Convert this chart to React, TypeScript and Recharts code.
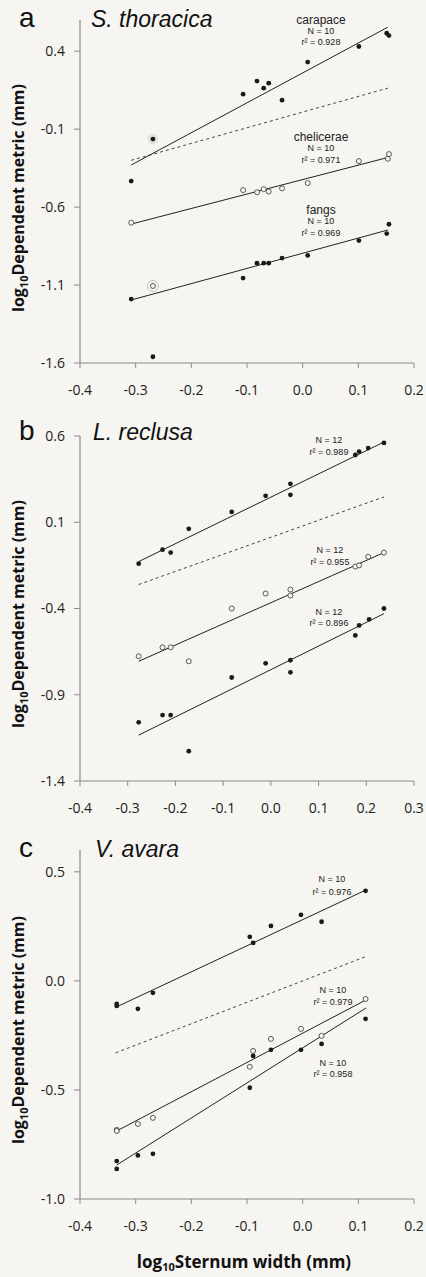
import React from 'react';
import { ScatterChart, Scatter, XAxis, YAxis } from 'recharts';

type P = { x: number; y: number };

// ---------- Panel a: S. thoracica ----------
const aCarapace: P[] = [
  { x: -0.308, y: -0.433 }, { x: -0.269, y: -0.164 }, { x: -0.107, y: 0.124 },
  { x: -0.082, y: 0.208 }, { x: -0.070, y: 0.163 }, { x: -0.061, y: 0.195 },
  { x: -0.037, y: 0.086 }, { x: 0.009, y: 0.33 }, { x: 0.101, y: 0.43 },
  { x: 0.151, y: 0.515 }, { x: 0.155, y: 0.50 },
];
const aChelicerae: P[] = [
  { x: -0.308, y: -0.70 }, { x: -0.269, y: -1.106 }, { x: -0.107, y: -0.491 },
  { x: -0.082, y: -0.505 }, { x: -0.070, y: -0.485 }, { x: -0.061, y: -0.50 },
  { x: -0.037, y: -0.48 }, { x: 0.009, y: -0.446 }, { x: 0.101, y: -0.305 },
  { x: 0.153, y: -0.29 }, { x: 0.155, y: -0.26 },
];
const aFangs: P[] = [
  { x: -0.308, y: -1.19 }, { x: -0.269, y: -1.56 }, { x: -0.107, y: -1.055 },
  { x: -0.082, y: -0.96 }, { x: -0.070, y: -0.96 }, { x: -0.061, y: -0.96 },
  { x: -0.037, y: -0.927 }, { x: 0.009, y: -0.91 }, { x: 0.101, y: -0.815 },
  { x: 0.151, y: -0.77 }, { x: 0.155, y: -0.71 },
];
const aGlow: P[] = [{ x: -0.269, y: -0.164 }];
const aRing: P[] = [{ x: -0.269, y: -1.106 }];
const aFitCarapace: P[] = [{ x: -0.308, y: -0.33 }, { x: 0.153, y: 0.554 }];
const aFitChelicerae: P[] = [{ x: -0.308, y: -0.709 }, { x: 0.155, y: -0.28 }];
const aFitFangs: P[] = [{ x: -0.308, y: -1.196 }, { x: 0.153, y: -0.747 }];
const aIso: P[] = [{ x: -0.308, y: -0.30 }, { x: 0.153, y: 0.163 }];
const aXTicks = [-0.4, -0.3, -0.2, -0.1, 0.0, 0.1, 0.2];
const aYTicks = [-1.6, -1.1, -0.6, -0.1, 0.4];

// ---------- Panel b: L. reclusa ----------
const bCarapace: P[] = [
  { x: -0.277, y: -0.14 }, { x: -0.227, y: -0.059 }, { x: -0.210, y: -0.076 },
  { x: -0.172, y: 0.062 }, { x: -0.082, y: 0.16 }, { x: -0.011, y: 0.253 },
  { x: 0.041, y: 0.323 }, { x: 0.041, y: 0.259 }, { x: 0.177, y: 0.49 },
  { x: 0.185, y: 0.51 }, { x: 0.204, y: 0.53 }, { x: 0.237, y: 0.56 },
];
const bChelicerae: P[] = [
  { x: -0.277, y: -0.677 }, { x: -0.227, y: -0.625 }, { x: -0.210, y: -0.625 },
  { x: -0.172, y: -0.706 }, { x: -0.082, y: -0.40 }, { x: -0.011, y: -0.313 },
  { x: 0.041, y: -0.29 }, { x: 0.041, y: -0.325 }, { x: 0.177, y: -0.157 },
  { x: 0.185, y: -0.15 }, { x: 0.204, y: -0.10 }, { x: 0.237, y: -0.076 },
];
const bFangs: P[] = [
  { x: -0.277, y: -1.06 }, { x: -0.227, y: -1.018 }, { x: -0.210, y: -1.018 },
  { x: -0.172, y: -1.227 }, { x: -0.082, y: -0.80 }, { x: -0.011, y: -0.718 },
  { x: 0.041, y: -0.70 }, { x: 0.041, y: -0.77 }, { x: 0.177, y: -0.556 },
  { x: 0.185, y: -0.498 }, { x: 0.206, y: -0.463 }, { x: 0.237, y: -0.40 },
];
const bFitCarapace: P[] = [{ x: -0.277, y: -0.128 }, { x: 0.237, y: 0.565 }];
const bFitChelicerae: P[] = [{ x: -0.277, y: -0.706 }, { x: 0.237, y: -0.076 }];
const bFitFangs: P[] = [{ x: -0.277, y: -1.134 }, { x: 0.237, y: -0.43 }];
const bIso: P[] = [{ x: -0.277, y: -0.261 }, { x: 0.237, y: 0.247 }];
const bXTicks = [-0.4, -0.3, -0.2, -0.1, 0.0, 0.1, 0.2, 0.3];
const bYTicks = [-1.4, -0.9, -0.4, 0.1, 0.6];

// ---------- Panel c: V. avara ----------
const cCarapace: P[] = [
  { x: -0.334, y: -0.106 }, { x: -0.334, y: -0.115 }, { x: -0.296, y: -0.128 },
  { x: -0.269, y: -0.055 }, { x: -0.095, y: 0.202 }, { x: -0.089, y: 0.174 },
  { x: -0.057, y: 0.252 }, { x: -0.003, y: 0.303 }, { x: 0.034, y: 0.271 },
  { x: 0.113, y: 0.413 },
];
const cChelicerae: P[] = [
  { x: -0.334, y: -0.683 }, { x: -0.334, y: -0.688 }, { x: -0.296, y: -0.656 },
  { x: -0.269, y: -0.628 }, { x: -0.095, y: -0.394 }, { x: -0.089, y: -0.321 },
  { x: -0.057, y: -0.266 }, { x: -0.003, y: -0.22 }, { x: 0.034, y: -0.252 },
  { x: 0.113, y: -0.083 },
];
const cFangs: P[] = [
  { x: -0.334, y: -0.862 }, { x: -0.334, y: -0.826 }, { x: -0.296, y: -0.80 },
  { x: -0.269, y: -0.793 }, { x: -0.095, y: -0.49 }, { x: -0.089, y: -0.344 },
  { x: -0.057, y: -0.316 }, { x: -0.003, y: -0.316 }, { x: 0.034, y: -0.289 },
  { x: 0.113, y: -0.174 },
];
const cFitCarapace: P[] = [{ x: -0.334, y: -0.119 }, { x: 0.114, y: 0.417 }];
const cFitChelicerae: P[] = [{ x: -0.334, y: -0.688 }, { x: 0.114, y: -0.087 }];
const cFitFangs: P[] = [{ x: -0.334, y: -0.844 }, { x: 0.114, y: -0.124 }];
const cIso: P[] = [{ x: -0.336, y: -0.33 }, { x: 0.112, y: 0.11 }];
const cXTicks = [-0.4, -0.3, -0.2, -0.1, 0.0, 0.1, 0.2];
const cYTicks = [-1.0, -0.5, 0.0, 0.5];

const BG = '#f6f5f1';
const INK = '#1a1a1a';
const AXIS = '#8a8a8a';
const TICK_FONT = "'Open Sans', 'Noto Sans', sans-serif";
const ARIAL = "'Liberation Sans', Arial, sans-serif";

const fmt = (v: number) => (Math.abs(v) < 1e-9 ? '0.0' : v.toFixed(1));

const FilledDot = (p: any) => <circle cx={p.cx} cy={p.cy} r={2.4} fill={INK} />;
const OpenDot = (p: any) => (
  <circle cx={p.cx} cy={p.cy} r={2.5} fill={BG} stroke="#333" strokeWidth={0.8} />
);
const GlowDot = (p: any) => (
  <circle cx={p.cx} cy={p.cy} r={5.5} fill="#e4e3df" stroke="none" />
);
const RingDot = (p: any) => (
  <circle cx={p.cx} cy={p.cy} r={5.5} fill="none" stroke="#b5b5b5" strokeWidth={0.8} />
);
const NoDot = () => <g />;

type PanelProps = {
  top: number;
  height: number;
  marginTop: number;
  marginBottom: number;
  xDomain: [number, number];
  xTicks: number[];
  yDomain: [number, number];
  yTicks: number[];
  carapace: P[];
  chelicerae: P[];
  fangs: P[];
  fitCarapace: P[];
  fitChelicerae: P[];
  fitFangs: P[];
  iso: P[];
  glow?: P[];
  ring?: P[];
};

function Panel(props: PanelProps) {
  const lineStyle = { stroke: '#222', strokeWidth: 1 };
  return (
    <div style={{ position: 'absolute', left: 0, top: props.top }}>
      <ScatterChart
        width={426}
        height={props.height}
        margin={{ top: props.marginTop, right: 12, bottom: props.marginBottom, left: 0 }}
      >
        <XAxis
          type="number"
          dataKey="x"
          domain={props.xDomain}
          ticks={props.xTicks}
          interval={0}
          allowDataOverflow
          tickFormatter={fmt}
          height={30}
          tickSize={5}
          tickMargin={17}
          axisLine={{ stroke: AXIS, strokeWidth: 1.2 }}
          tickLine={{ stroke: AXIS }}
          tick={{ fontSize: 14, fontFamily: TICK_FONT, fill: '#222' }}
        />
        <YAxis
          type="number"
          dataKey="y"
          domain={props.yDomain}
          ticks={props.yTicks}
          interval={0}
          allowDataOverflow
          tickFormatter={fmt}
          width={80}
          tickSize={6}
          tickMargin={9}
          axisLine={{ stroke: AXIS, strokeWidth: 1.2 }}
          tickLine={{ stroke: AXIS }}
          tick={{ fontSize: 14, fontFamily: TICK_FONT, fill: '#222' }}
        />
        {props.glow ? (
          <Scatter data={props.glow} shape={GlowDot} isAnimationActive={false} />
        ) : null}
        <Scatter data={props.iso} shape={NoDot} isAnimationActive={false}
          line={{ stroke: '#444', strokeWidth: 1, strokeDasharray: '3 3' }} />
        <Scatter data={props.fitCarapace} shape={NoDot} isAnimationActive={false} line={lineStyle} />
        <Scatter data={props.fitChelicerae} shape={NoDot} isAnimationActive={false} line={lineStyle} />
        <Scatter data={props.fitFangs} shape={NoDot} isAnimationActive={false} line={lineStyle} />
        {props.ring ? (
          <Scatter data={props.ring} shape={RingDot} isAnimationActive={false} />
        ) : null}
        <Scatter data={props.carapace} shape={FilledDot} isAnimationActive={false} />
        <Scatter data={props.chelicerae} shape={OpenDot} isAnimationActive={false} />
        <Scatter data={props.fangs} shape={FilledDot} isAnimationActive={false} />
      </ScatterChart>
    </div>
  );
}

function YLabel({ cy }: { cy: number }) {
  return (
    <text
      transform={`translate(24, ${cy}) rotate(-90)`}
      textAnchor="middle"
      fontFamily={TICK_FONT}
      fontWeight="bold"
      fontSize={16}
      fill="#111"
    >
      log<tspan fontSize={11} dy={4}>10</tspan>
      <tspan dy={-4}>Dependent metric (mm)</tspan>
    </text>
  );
}

function Note({ x, y, lines }: { x: number; y: number[]; lines: string[] }) {
  return (
    <g>
      {lines.map((t, i) => (
        <text
          key={i}
          x={x}
          y={y[i]}
          textAnchor="middle"
          fontFamily={ARIAL}
          fontSize={i === 0 && lines.length === 3 ? 12 : 9}
          fill="#222"
        >
          {t}
        </text>
      ))}
    </g>
  );
}

export default function App() {
  return (
    <div style={{ position: 'absolute', left: 0, top: 0, width: 426, height: 1277, background: BG, overflow: 'hidden' }}>
      <Panel
        top={0} height={430} marginTop={20} marginBottom={37}
        xDomain={[-0.4, 0.2]} xTicks={aXTicks} yDomain={[-1.6, 0.6]} yTicks={aYTicks}
        carapace={aCarapace} chelicerae={aChelicerae} fangs={aFangs}
        fitCarapace={aFitCarapace} fitChelicerae={aFitChelicerae} fitFangs={aFitFangs}
        iso={aIso} glow={aGlow} ring={aRing}
      />
      <Panel
        top={420} height={430} marginTop={16} marginBottom={39}
        xDomain={[-0.4, 0.3]} xTicks={bXTicks} yDomain={[-1.4, 0.6]} yTicks={bYTicks}
        carapace={bCarapace} chelicerae={bChelicerae} fangs={bFangs}
        fitCarapace={bFitCarapace} fitChelicerae={bFitChelicerae} fitFangs={bFitFangs}
        iso={bIso}
      />
      <Panel
        top={850} height={427} marginTop={0} marginBottom={48}
        xDomain={[-0.4, 0.2]} xTicks={cXTicks} yDomain={[-1.0, 0.6]} yTicks={cYTicks}
        carapace={cCarapace} chelicerae={cChelicerae} fangs={cFangs}
        fitCarapace={cFitCarapace} fitChelicerae={cFitChelicerae} fitFangs={cFitFangs}
        iso={cIso}
      />
      <svg width={426} height={1277} style={{ position: 'absolute', left: 0, top: 0, pointerEvents: 'none' }}>
        {/* panel letters and species */}
        <text x={19} y={27} fontFamily={ARIAL} fontSize={28} fill="#111">a</text>
        <text x={91} y={27} fontFamily={ARIAL} fontStyle="italic" fontSize={23} fill="#111">S. thoracica</text>
        <text x={19} y={440} fontFamily={ARIAL} fontSize={28} fill="#111">b</text>
        <text x={93} y={440} fontFamily={ARIAL} fontStyle="italic" fontSize={23} fill="#111">L. reclusa</text>
        <text x={19} y={857} fontFamily={ARIAL} fontSize={28} fill="#111">c</text>
        <text x={95} y={857} fontFamily={ARIAL} fontStyle="italic" fontSize={23} fill="#111">V. avara</text>

        {/* annotations panel a */}
        <Note x={321} y={[24, 34, 45]} lines={['carapace', 'N = 10', 'r² = 0.928']} />
        <Note x={321} y={[141, 151, 163]} lines={['chelicerae', 'N = 10', 'r² = 0.971']} />
        <Note x={321} y={[214, 224, 236]} lines={['fangs', 'N = 10', 'r² = 0.969']} />

        {/* annotations panel b */}
        <Note x={329} y={[443, 455]} lines={['N = 12', 'r² = 0.989']} />
        <Note x={330} y={[553, 565]} lines={['N = 12', 'r² = 0.955']} />
        <Note x={329} y={[615, 626]} lines={['N = 12', 'r² = 0.896']} />

        {/* annotations panel c */}
        <Note x={332} y={[882, 895]} lines={['N = 10', 'r² = 0.976']} />
        <Note x={333} y={[993, 1005]} lines={['N = 10', 'r² = 0.979']} />
        <Note x={333} y={[1066, 1077]} lines={['N = 10', 'r² = 0.958']} />

        <YLabel cy={198} />
        <YLabel cy={614} />
        <YLabel cy={1030} />

        <text
          x={244}
          y={1268}
          textAnchor="middle"
          fontFamily={TICK_FONT}
          fontWeight="bold"
          fontSize={17}
          fill="#111"
        >
          log<tspan fontSize={11} dy={3}>10</tspan>
          <tspan dy={-3}>Sternum width (mm)</tspan>
        </text>
      </svg>
    </div>
  );
}
